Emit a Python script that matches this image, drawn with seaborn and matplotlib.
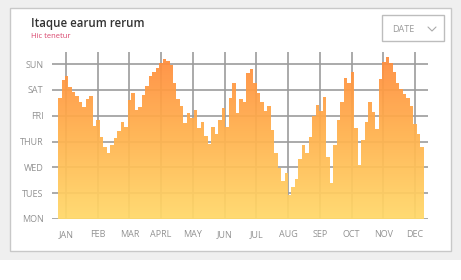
import numpy as np
import pandas as pd
import matplotlib
matplotlib.use("Agg")
import matplotlib.pyplot as plt
import seaborn as sns
from matplotlib.patches import Rectangle
from matplotlib.lines import Line2D
from matplotlib.colors import LinearSegmentedColormap

# ---------------- data ----------------
months = ["JAN", "FEB", "MAR", "APRL", "MAY", "JUN", "JUL", "AUG", "SEP", "OCT", "NOV", "DEC"]
days = ["MON", "TUES", "WED", "THUR", "FRI", "SAT", "SUN"]
values = [
    4.68, 5.39, 5.55, 5.10, 4.93, 4.77, 4.55, 4.35, 4.64, 4.77,
    3.60, 3.84, 3.19, 2.78, 2.55, 2.87, 3.13, 3.42, 3.77, 3.55,
    4.61, 4.90, 4.22, 4.35, 4.81, 5.16, 5.54, 5.71, 5.84, 6.03,
    6.19, 6.14, 5.97, 5.26, 4.64, 4.38, 3.73, 4.12, 3.90, 4.22,
    3.52, 3.77, 3.22, 2.91, 3.55, 3.29, 3.84, 4.29, 3.55, 4.68,
    5.26, 4.12, 4.64, 4.55, 5.65, 5.80, 5.26, 4.87, 4.55, 4.20,
    4.38, 3.45, 2.57, 1.96, 1.48, 1.77, 0.93, 1.25, 1.54, 2.31,
    2.87, 2.57, 3.19, 3.99, 4.42, 4.20, 4.74, 2.41, 1.41, 2.87,
    3.84, 4.55, 5.45, 5.28, 5.71, 3.52, 2.09, 3.06, 3.77, 4.55,
    4.16, 3.48, 5.41, 6.10, 6.27, 6.03, 5.71, 5.28, 5.03, 4.84,
    4.68, 4.38, 3.68, 3.29, 2.80,
]
title = "Itaque earum rerum"
subtitle = "Hic tenetur"
dropdown = "DATE"

# ---------------- style ----------------
sns.set_style("white")
plt.rcParams['font.family'] = ['Open Sans', 'DejaVu Sans']

W, H = 461, 280
fig = plt.figure(figsize=(W / 100, H / 100), dpi=100)
fig.patch.set_facecolor('#efefef')

# white strip at bottom
fig.add_artist(Rectangle((0, 0), 1, 20 / H, transform=fig.transFigure,
                         facecolor='white', edgecolor='none', zorder=0))
# card
fig.add_artist(Rectangle((10 / W, (H - 251) / H), 441 / W, 243 / H,
                         transform=fig.transFigure, facecolor='white',
                         edgecolor='#c8c8c8', lw=1.0, zorder=0))

ax = fig.add_axes([52 / W, (H - 219) / H, 376 / W, 167 / H])
ax.set_facecolor('none')

xmin, xmax = -0.44, 11.41
ymax = 6.47
n = len(values)
x0, x1 = -0.25, 11.28
bw = (x1 - x0) / n
centers = x0 + bw * (np.arange(n) + 0.5)
df = pd.DataFrame({"x": centers, "v": values})

sns.histplot(data=df, x="x", weights="v", bins=n, binrange=(x0, x1),
             element="step", fill=True, ax=ax, color='#ff9040', alpha=1,
             linewidth=0, zorder=1)
poly = ax.collections[0]
poly.set_facecolor('none')
poly.set_edgecolor('none')

cmap = LinearSegmentedColormap.from_list("g", ['#ffd96a', '#ffb24e', '#ff8a3c'])
grad = np.linspace(0, 1, 256).reshape(-1, 1)
im = ax.imshow(grad, extent=[xmin, xmax, 0, ymax], origin='lower', cmap=cmap,
               aspect='auto', zorder=2, alpha=0.94, interpolation='bilinear')
im.set_clip_path(poly.get_paths()[0], transform=ax.transData)

ax.set_xlim(xmin, xmax)
ax.set_ylim(0, ymax)
ax.set_xticks(range(len(months)))
ax.set_xticklabels(months)
ax.set_yticks(range(len(days)))
ax.set_yticklabels(days)
ax.set_xlabel("")
ax.set_ylabel("")
ax.grid(True, color='#9c9c9c', lw=1.2, zorder=0)
ax.set_axisbelow(True)
for s in ax.spines.values():
    s.set_visible(False)
ax.tick_params(axis='both', length=0, labelsize=6.5, labelcolor='#929292')
ax.tick_params(axis='y', pad=6)
ax.tick_params(axis='x', pad=8)

# titles
fig.text(31 / W, 1 - 24 / H, title, fontsize=8.3, fontweight='semibold',
         color='#333333', va='center', ha='left')
fig.text(31 / W, 1 - 36 / H, subtitle, fontsize=5.5, color='#d9446c',
         va='center', ha='left')

# dropdown box
fig.add_artist(Rectangle((382 / W, (H - 41) / H), 62 / W, 26 / H,
                         transform=fig.transFigure, facecolor='white',
                         edgecolor='#bdbdbd', lw=1.0, zorder=3))
fig.text(392 / W, 1 - 29 / H, dropdown, fontsize=6.5, color='#9a9a9a',
         va='center', ha='left', zorder=4)
fig.add_artist(Line2D([428 / W, 432 / W, 436 / W],
                      [1 - 27 / H, 1 - 31 / H, 1 - 27 / H],
                      transform=fig.transFigure, color='#aaaaaa', lw=0.8, zorder=4))

fig.savefig("out.png", dpi=100, facecolor=fig.get_facecolor())
